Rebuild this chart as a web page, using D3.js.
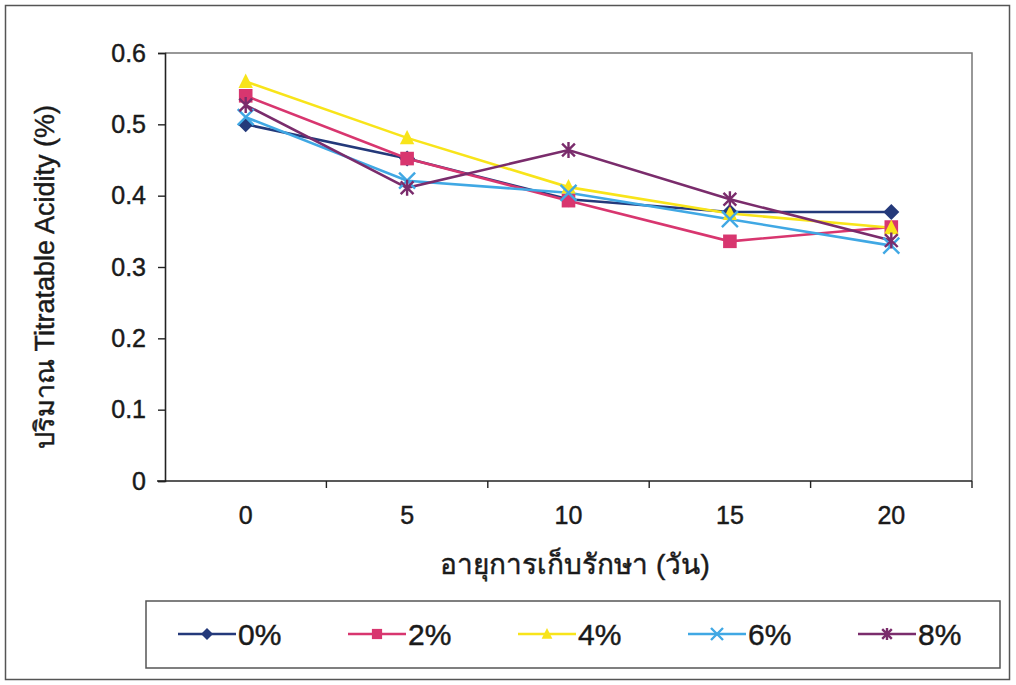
<!DOCTYPE html>
<html><head><meta charset="utf-8">
<script src="https://cdn.jsdelivr.net/npm/d3@7"></script>
<style>
html,body{margin:0;padding:0;background:#fff;}
svg{display:block;}
text{font-family:"Liberation Sans",Arial,"Noto Sans",sans-serif;fill:#1a1a1a;stroke:#1a1a1a;stroke-width:0.45px;}
</style></head>
<body>
<svg id="c" width="1016" height="685"></svg>
<script>
const categories = ["0","5","10","15","20"];
const seriesNames = ["0%","2%","4%","6%","8%"];
const s0 = [0.500,0.452,0.395,0.377,0.377];
const s2 = [0.540,0.452,0.393,0.336,0.356];
const s4 = [0.560,0.481,0.412,0.375,0.355];
const s6 = [0.510,0.421,0.404,0.367,0.330];
const s8 = [0.527,0.411,0.464,0.395,0.337];
const yTicks = [0,0.1,0.2,0.3,0.4,0.5,0.6];
const colors = ["#24397a","#d8366f","#f8e41a","#40a8e4","#7a2c6c"];
const symbols = ["diamond","square","triangle","cross","asterisk"];
const yTitle = "ปริมาณ Titratable Acidity (%)";
const xTitle = "อายุการเก็บรักษา (วัน)";

const seriesVals = [s0,s2,s4,s6,s8];
const svg = d3.select("#c");
const W = 1016, H = 685;
svg.append("rect").attr("x",0).attr("y",0).attr("width",W).attr("height",H).attr("fill","#fff");
svg.append("rect").attr("x",5.5).attr("y",5.5).attr("width",1004).attr("height",674)
  .attr("fill","none").attr("stroke","#555").attr("stroke-width",1.5);

const L=165, R=972, T=53, B=481;
const x = d3.scaleBand().domain(categories).range([L,R]);
const y = d3.scaleLinear().domain([0,0.6]).range([B,T]);

svg.append("path").attr("d",`M${L},${T}H${R}V${B}`).attr("fill","none").attr("stroke","#777").attr("stroke-width",1.5);

const ya = svg.append("g").attr("transform",`translate(${L},0)`)
  .call(d3.axisLeft(y).tickValues(yTicks).tickFormat(d=>d===0?"0":d3.format(".1f")(d)).tickSize(7).tickPadding(12));
ya.select(".domain").attr("stroke","#222").attr("stroke-width",1.6);
ya.selectAll(".tick line").attr("stroke","#222").attr("stroke-width",1.4);
ya.selectAll(".tick text").attr("font-size",25).attr("fill","#1a1a1a").style("font-family","Liberation Sans, Arial, sans-serif");

const xa = svg.append("g").attr("transform",`translate(0,${B})`)
  .call(d3.axisBottom(x).tickSize(0).tickPadding(25));
xa.select(".domain").remove();
xa.selectAll(".tick text").attr("font-size",25).attr("fill","#1a1a1a").style("font-family","Liberation Sans, Arial, sans-serif");
svg.append("line").attr("x1",L-8).attr("x2",R).attr("y1",B).attr("y2",B).attr("stroke","#222").attr("stroke-width",1.6);
const bounds = categories.map(c=>x(c)).concat([x(categories[categories.length-1])+x.bandwidth()]);
svg.selectAll(".xb").data(bounds.slice(1)).enter().append("line")
  .attr("x1",d=>d).attr("x2",d=>d).attr("y1",B).attr("y2",B+7).attr("stroke","#222").attr("stroke-width",1.4);

function marker(g, sym, color, size){
  const s=size;
  if(sym==="diamond"){
    g.append("path").attr("d",`M0,${-s}L${s},0L0,${s}L${-s},0Z`).attr("fill",color);
  } else if(sym==="square"){
    g.append("rect").attr("x",-s*0.85).attr("y",-s*0.85).attr("width",s*1.7).attr("height",s*1.7).attr("fill",color);
  } else if(sym==="triangle"){
    g.append("path").attr("d",`M0,${-s}L${s*0.9},${s*0.8}L${-s*0.9},${s*0.8}Z`).attr("fill",color);
  } else if(sym==="cross"){
    g.append("path").attr("d",`M${-s},${-s}L${s},${s}M${-s},${s}L${s},${-s}`).attr("stroke",color).attr("stroke-width",2.4);
  } else {
    g.append("path").attr("d",`M${-s*0.8},${-s*0.8}L${s*0.8},${s*0.8}M${-s*0.8},${s*0.8}L${s*0.8},${-s*0.8}M0,${-s}V${s}`).attr("stroke",color).attr("stroke-width",2.4);
  }
}

const line = d3.line().x((d,i)=>x(categories[i])+x.bandwidth()/2).y(d=>y(d));
seriesVals.forEach((vals,k)=>{
  svg.append("path").datum(vals).attr("d",line).attr("fill","none").attr("stroke",colors[k]).attr("stroke-width",2.6);
});
seriesVals.forEach((vals,k)=>{
  vals.forEach((v,i)=>{
    const g = svg.append("g").attr("transform",`translate(${x(categories[i])+x.bandwidth()/2},${y(v)})`);
    marker(g, symbols[k], colors[k], 8);
  });
});

svg.append("text").attr("transform",`translate(54,${(T+B)/2+10}) rotate(-90)`).attr("text-anchor","middle")
  .attr("font-size",27).text(yTitle);
svg.append("text").attr("x",575).attr("y",574).attr("text-anchor","middle").attr("font-size",28).text(xTitle);

svg.append("rect").attr("x",146).attr("y",601).attr("width",854).attr("height",67)
  .attr("fill","#fff").attr("stroke","#555").attr("stroke-width",1.5);
const legX = [178,348,518,688,858];
seriesNames.forEach((n,k)=>{
  const g = svg.append("g").attr("transform",`translate(${legX[k]},634)`);
  g.append("line").attr("x1",0).attr("x2",58).attr("y1",0).attr("y2",0).attr("stroke",colors[k]).attr("stroke-width",2.4);
  const m = g.append("g").attr("transform","translate(29,0)");
  marker(m, symbols[k], colors[k], 6);
  g.append("text").attr("x",60).attr("y",11).attr("font-size",30).text(n);
});
</script>
</body></html>
